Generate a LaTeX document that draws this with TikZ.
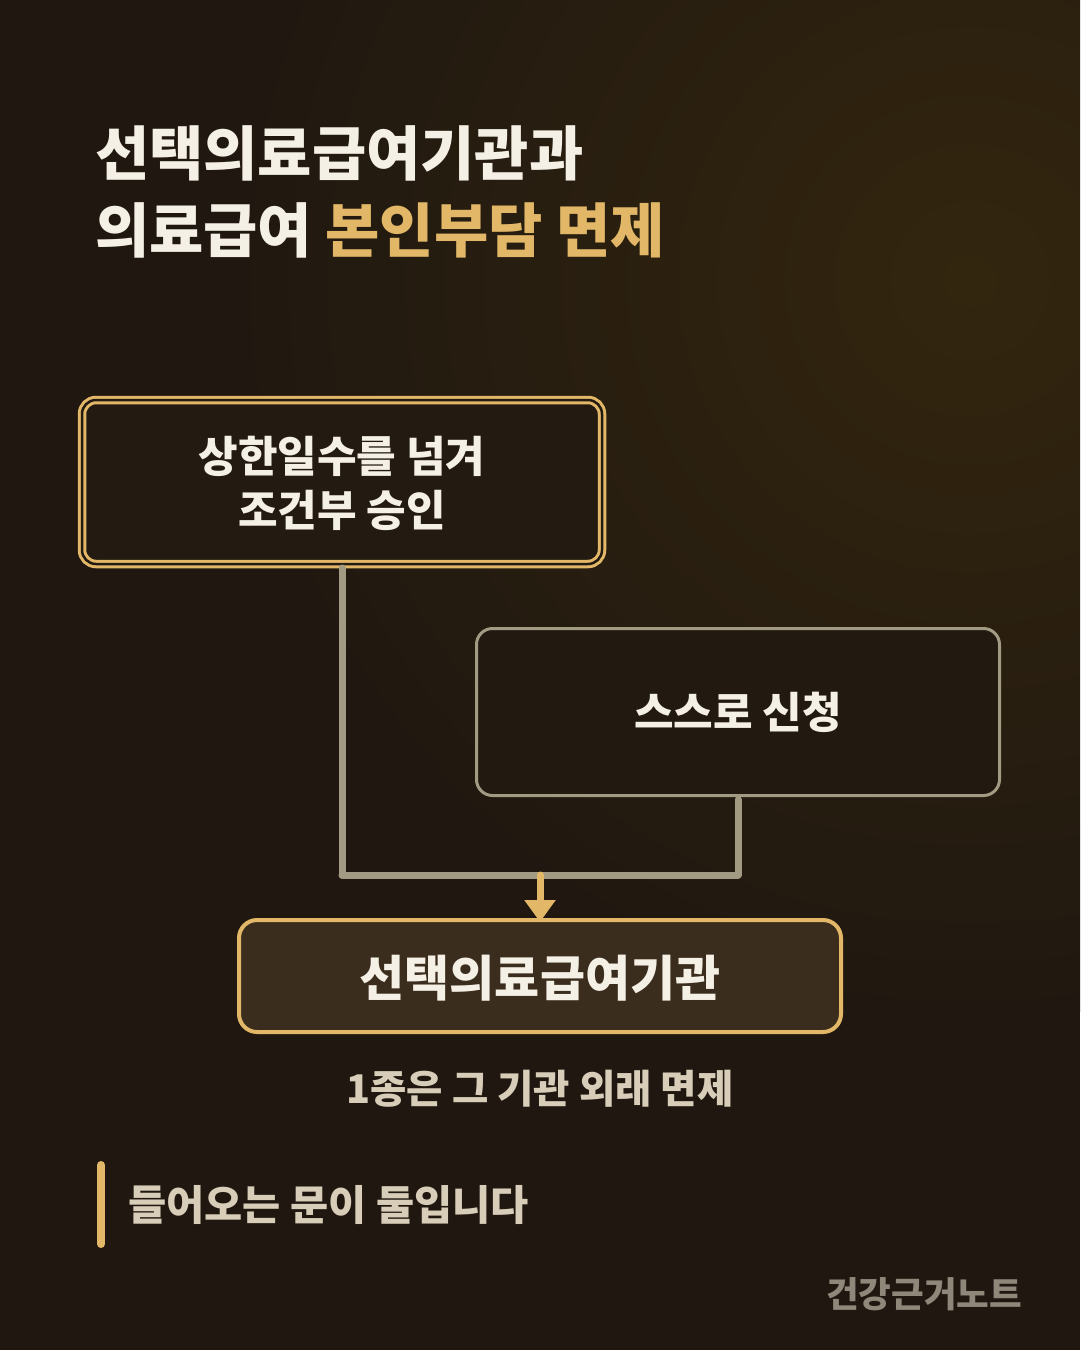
\documentclass[tikz,border=0pt]{standalone}
\usepackage{fontspec}
\setmainfont{Noto Sans CJK KR}[BoldFont={Noto Sans CJK KR Black}]
\usetikzlibrary{arrows.meta}
\definecolor{bgc}{HTML}{201810}
\definecolor{glow}{HTML}{33260F}
\definecolor{gold}{HTML}{E2B868}
\definecolor{cream}{HTML}{F5F0E6}
\definecolor{beige}{HTML}{D8CDB8}
\definecolor{greyline}{HTML}{A39A84}
\definecolor{boxfill}{HTML}{231B12}
\definecolor{boxtwo}{HTML}{221A11}
\definecolor{mainfill}{HTML}{3B2D1D}
\definecolor{signc}{HTML}{8F877A}
\tikzset{
  every node/.style={inner sep=0pt, outer sep=0pt},
  goldbox/.style={draw=gold, line width=3pt, double=boxfill, double distance=2.5pt, fill=boxfill, rounded corners=14pt, minimum width=520pt, minimum height=164pt},
  greybox/.style={draw=greyline, line width=3pt, fill=boxtwo, rounded corners=16pt, minimum width=523pt, minimum height=167pt},
  mainbox/.style={draw=gold, line width=4pt, fill=mainfill, rounded corners=18pt, minimum width=602pt, minimum height=112pt},
  boxtext/.style={text=cream, font=\bfseries\fontsize{43}{54}\selectfont, align=center},
  conn/.style={draw=greyline, line width=7pt, line cap=round},
}
\begin{document}
\begin{tikzpicture}[x=1pt,y=-1pt]
\useasboundingbox (0,0) rectangle (1080,1350);
\fill[bgc] (0,0) rectangle (1080,1350);
\begin{scope}
\clip (0,0) rectangle (1080,1350);
\shade[inner color=glow, outer color=bgc] (970,280) circle (740);
\end{scope}
% title
\node[anchor=base west, text=cream, font=\bfseries\fontsize{59}{60}\selectfont] (t1) at (95,175) {선택의료급여기관과};
\node[anchor=base west, text=cream, font=\bfseries\fontsize{59}{60}\selectfont] (t2) at (95,252) {의료급여 \textcolor{gold}{본인부담 면제}};
% boxes
\node[goldbox] (b1) at (342,482) {};
\node[boxtext] (b1t) at (342,483) {상한일수를 넘겨\\조건부 승인};
\node[greybox] (b2) at (738,712) {};
\node[boxtext] (b2t) at (738,712) {스스로 신청};
\node[mainbox] (b3) at (540,976) {};
\node[text=cream, font=\bfseries\fontsize{49}{50}\selectfont] (b3t) at (540,978) {선택의료급여기관};
% connectors
\coordinate (j1) at (342,875);
\coordinate (j2) at (738,875);
\coordinate (jm) at (540,875);
\draw[conn] ([yshift=-4pt]b1.south) -- (j1);
\draw[conn] ([yshift=-4pt]b2.south) -- (j2);
\draw[conn] (j1) -- (j2);
\draw[gold, line width=7pt, line cap=round, -{Triangle[width=30pt,length=22pt]}] (jm) -- ([yshift=-2pt]b3.north);
% caption
\node[text=beige, font=\bfseries\fontsize{39.5}{40}\selectfont] (cap) at (540,1089) {1종은 그 기관 외래 면제};
% note
\draw[gold, line width=8pt, line cap=round] (101,1165) -- (101,1244);
\node[anchor=west, text=beige, font=\bfseries\fontsize{41.5}{42}\selectfont] (note) at (128,1205) {들어오는 문이 둘입니다};
\node[anchor=east, text=signc, font=\bfseries\fontsize{35.5}{36}\selectfont] (sign) at (1022,1294) {건강근거노트};
\end{tikzpicture}
\end{document}
